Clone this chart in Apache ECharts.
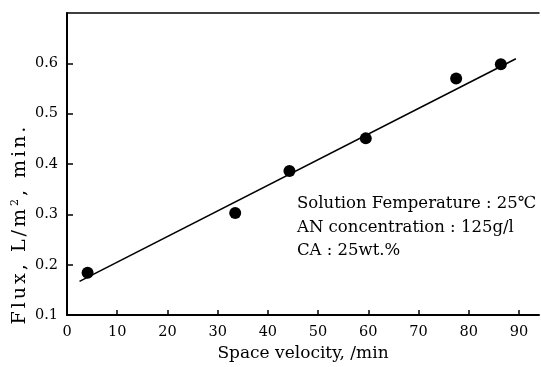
<!DOCTYPE html>
<html>
<head>
<meta charset="utf-8">
<script src="https://cdn.jsdelivr.net/npm/echarts@6/dist/echarts.min.js"></script>
<style>
  html, body { margin: 0; padding: 0; background: #fff; }
  #chart { width: 541px; height: 367px; }
</style>
</head>
<body>
<div id="chart"></div>
<script>
// Measured flux against space velocity
const velocity = [4.1, 33.5, 44.3, 59.5, 77.5, 86.4];
const flux = [0.184, 0.303, 0.386, 0.451, 0.570, 0.598];

// End points of the fitted straight line
const fitVelocity = [2.5, 89.4];
const fitFlux = [0.167, 0.609];

// Experimental conditions shown inside the plot
const conditions = [
  'Solution Femperature : 25℃',
  'AN concentration : 125g/l',
  'CA : 25wt.%'
];

// Y axis title pieces: text before the exponent, exponent, text after
const yTitleHead = 'Flux, L/m';
const yTitleExp = '2';
const yTitleTail = ', min.';

const FONT = 'DejaVu Serif';
const INK = '#000';

// Spread the rotated title letter by letter (one rich token per character)
const spaced = s => Array.from(s).map(ch => '{c|' + ch + '}').join('');
const yTitleText = spaced(yTitleHead) + '{s|' + yTitleExp + '}' + spaced(yTitleTail);

const chart = echarts.init(document.getElementById('chart'), null, { renderer: 'canvas' });

chart.setOption({
  animation: false,
  backgroundColor: '#fff',
  grid: { left: 67, right: 2, top: 13, bottom: 50 },
  xAxis: [
    {
      type: 'value',
      min: 0, max: 94, interval: 10,
      name: 'Space velocity, /min',
      nameLocation: 'middle',
      nameGap: 26,
      nameTextStyle: { fontFamily: FONT, fontSize: 17, color: INK },
      axisLine: { show: true, onZero: false, lineStyle: { color: INK, width: 2 } },
      axisTick: { show: true, inside: false, length: -5, lineStyle: { color: INK, width: 1.5 } },
      axisLabel: { fontFamily: FONT, fontSize: 14.5, color: INK, margin: 10, showMaxLabel: false },
      splitLine: { show: false }
    },
    {
      type: 'value',
      position: 'top',
      min: 0, max: 94,
      axisLine: { show: true, onZero: false, lineStyle: { color: INK, width: 1.5 } },
      axisTick: { show: false },
      axisLabel: { show: false },
      splitLine: { show: false }
    }
  ],
  yAxis: {
    type: 'value',
    min: 0.1, max: 0.7, interval: 0.1,
    axisLine: { show: true, onZero: false, lineStyle: { color: INK, width: 2 } },
    axisTick: { show: true, inside: false, length: -6, lineStyle: { color: INK, width: 1.5 } },
    axisLabel: {
      fontFamily: FONT, fontSize: 14.5, color: INK, margin: 9, showMaxLabel: false,
      formatter: v => v.toFixed(1)
    },
    splitLine: { show: false }
  },
  series: [
    {
      type: 'line',
      data: fitVelocity.map((x, i) => [x, fitFlux[i]]),
      showSymbol: false,
      symbol: 'none',
      lineStyle: { color: INK, width: 1.6 },
      z: 2
    },
    {
      type: 'scatter',
      data: velocity.map((x, i) => [x, flux[i]]),
      symbol: 'circle',
      symbolSize: 12,
      itemStyle: { color: INK, opacity: 1 },
      z: 3
    }
  ],
  graphic: [
    {
      type: 'text',
      x: 20, y: 224,
      rotation: Math.PI / 2,
      style: {
        text: yTitleText,
        align: 'center',
        verticalAlign: 'middle',
        rich: {
          c: { fontFamily: FONT, fontSize: 19, fill: INK, padding: [0, 3, 0, 0] },
          s: { fontFamily: FONT, fontSize: 11, fill: INK, verticalAlign: 'top', padding: [0, 3, 9, 0] }
        }
      }
    },
    {
      type: 'text',
      x: 297, y: 192,
      style: {
        text: conditions.join('\n'),
        fontFamily: FONT,
        fontSize: 16.5,
        lineHeight: 23.5,
        fill: INK,
        align: 'left',
        verticalAlign: 'top'
      }
    }
  ]
});
</script>
</body>
</html>
